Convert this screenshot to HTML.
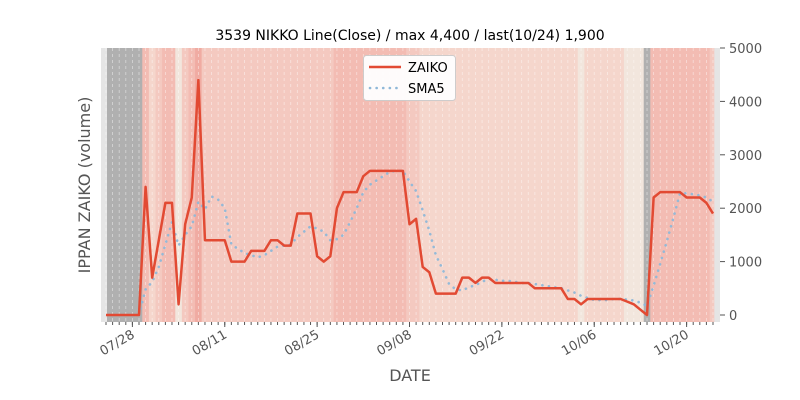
<!DOCTYPE html>
<html><head><meta charset="utf-8"><style>
body{margin:0;background:#fff;}
svg{display:block;font-family:"DejaVu Sans","Liberation Sans",sans-serif;}
</style></head><body>
<svg id="s" width="800" height="400" viewBox="0 0 800 400" xmlns="http://www.w3.org/2000/svg">
<rect x="101" y="48" width="619" height="274" fill="#e5e5e5"/>
<g id="bands"></g>
<g id="grid"></g>
<polyline id="sma" fill="none" stroke="#8fb8d8" stroke-width="2.6" stroke-dasharray="0.1,6.5" stroke-linecap="round" opacity="0.95"/>
<polyline id="zaiko" fill="none" stroke="#e24a33" stroke-width="2.5" stroke-linejoin="round"/>
<g id="ticks" stroke="#555" stroke-width="1"></g>
<g id="lbl" fill="#555" font-size="13"></g>
<text x="410" y="40" text-anchor="middle" font-size="14" fill="#000">3539 NIKKO Line(Close) / max 4,400 / last(10/24) 1,900</text>
<text x="410" y="381" text-anchor="middle" font-size="16" fill="#555">DATE</text>
<text transform="translate(90,185) rotate(-90)" text-anchor="middle" font-size="16" fill="#555">IPPAN ZAIKO (volume)</text>
<rect x="363.5" y="55.5" width="92" height="45" rx="3" fill="#fff" stroke="#ccc" stroke-width="1" opacity="0.95"/>
<line x1="369" y1="67" x2="401" y2="67" stroke="#e24a33" stroke-width="2.5"/>
<line x1="370" y1="88" x2="401" y2="88" stroke="#8fb8d8" stroke-width="2.6" stroke-dasharray="0.1,6.5" stroke-linecap="round"/>
<text x="408" y="72" font-size="13" fill="#000">ZAIKO</text>
<text x="408" y="93" font-size="13" fill="#000">SMA5</text>
</svg>
<script>
var d=[0,0,0,0,0,0,2400,700,1400,2100,2100,200,1700,2200,4400,1400,1400,1400,1400,1000,1000,1000,1200,1200,1200,1400,1400,1300,1300,1900,1900,1900,1100,1000,1100,2000,2300,2300,2300,2600,2700,2700,2700,2700,2700,2700,1700,1800,900,800,400,400,400,400,700,700,600,700,700,600,600,600,600,600,600,500,500,500,500,500,300,300,200,300,300,300,300,300,300,250,200,100,0,2200,2300,2300,2300,2300,2200,2200,2200,2100,1900];
var N=d.length,x0=106,dx=607/(N-1);
function X(i){return x0+dx*i;}
function Y(v){return 315-v*0.0534;}
var ns="http://www.w3.org/2000/svg";
function el(t,a,p){var e=document.createElementNS(ns,t);for(var k in a)e.setAttribute(k,a[k]);document.getElementById(p).appendChild(e);return e;}
function col(v,i){if(v==0)return "#b0b0b0";if(v<=250)return "#f2e6dd";if(v<1000)return "#f5d6cc";if(v<2000)return "#f4c9c0";if(v<3000)return "#f3bcb3";return "#f0aba2";}
for(var i=0;i<N;i++){var l=X(i)-dx/2,r=X(i)+dx/2;if(i==0)l=107;if(i==N-1)r=714;
el("rect",{x:l,y:48,width:r-l+0.3,height:274,fill:col(d[i],i)},"bands");
el("line",{x1:X(i),y1:48,x2:X(i),y2:322,stroke:"#fff","stroke-width":0.8,"stroke-dasharray":"3,3",opacity:0.5},"grid");
el("line",{x1:X(i),y1:322,x2:X(i),y2:325},"ticks");}
var p=[];for(i=0;i<N;i++)p.push(X(i)+","+Y(d[i]));document.getElementById("zaiko").setAttribute("points",p.join(" "));
var q=[];for(i=4;i<N;i++){var s=0;for(var j=i-4;j<=i;j++)s+=d[j];q.push(X(i)+","+Y(s/5));}document.getElementById("sma").setAttribute("points",q.join(" "));
var labs=["07/28","08/11","08/25","09/08","09/22","10/06","10/20"];
for(var k=0;k<7;k++){var xi=X(4+14*k);el("line",{x1:xi,y1:322,x2:xi,y2:327},"ticks");
var t=el("text",{transform:"translate("+(xi+3)+",337) rotate(-30)","text-anchor":"end"},"lbl");t.textContent=labs[k];}
for(var v=0;v<=5000;v+=1000){var yy=Y(v);el("line",{x1:720,y1:yy,x2:725,y2:yy},"ticks");var t2=el("text",{x:729,y:yy+5},"lbl");t2.textContent=v;}
</script>
</body></html>
